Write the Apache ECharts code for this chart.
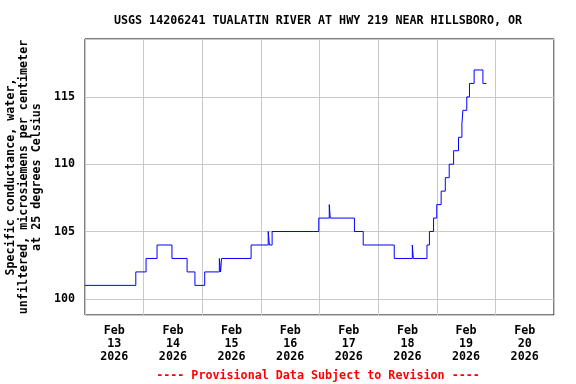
<!DOCTYPE html>
<html>
<head>
<meta charset="utf-8">
<script src="https://cdn.jsdelivr.net/npm/echarts@6/dist/echarts.min.js"></script>
<style>html,body{margin:0;padding:0;background:#fff}#c{width:576px;height:384px}</style>
</head>
<body>
<div id="c"></div>
<script>
// Hours after Feb 13 2026 00:00 where the reading changes, and the new value
var changeHours = [0, 20.8, 25.0, 29.5, 35.6, 41.8, 45.0, 49.0, 55.0, 55.5, 55.9, 68.0,
  75.0, 75.5, 76.6, 95.7, 100.0, 100.4, 110.3, 113.9, 126.6, 134.0, 134.4,
  140.0, 141.0, 142.7, 144.0, 145.8, 147.5, 149.1, 150.9, 152.9, 154.3, 154.7,
  156.3, 157.4, 159.3, 162.9, 164.3];
var changeValues = [101, 102, 103, 104, 103, 102, 101, 102, 103, 102, 103, 104,
  105, 104, 105, 106, 107, 106, 105, 104, 103, 104, 103,
  104, 105, 106, 107, 108, 109, 110, 111, 112, 113, 114,
  115, 116, 117, 116, 116];
var dayLabels = ['Feb\n13\n2026', 'Feb\n14\n2026', 'Feb\n15\n2026', 'Feb\n16\n2026',
  'Feb\n17\n2026', 'Feb\n18\n2026', 'Feb\n19\n2026', 'Feb\n20\n2026'];
var yTicks = [100, 105, 110, 115];

var seriesData = changeHours.map(function (h, i) { return [h, changeValues[i]]; });
var FONT = '"DejaVu Sans Mono", "Liberation Mono", monospace';

var chart = echarts.init(document.getElementById('c'), null, {renderer: 'canvas'});
chart.setOption({
  animation: false,
  backgroundColor: '#fff',
  title: [{
    text: 'USGS 14206241 TUALATIN RIVER AT HWY 219 NEAR HILLSBORO, OR',
    left: 313, top: 10, textAlign: 'center',
    textStyle: {fontFamily: FONT, fontSize: 11.7, fontWeight: 'bold', color: '#000'}
  }, {
    text: '---- Provisional Data Subject to Revision ----',
    left: 313, top: 365, textAlign: 'center',
    textStyle: {fontFamily: FONT, fontSize: 11.7, fontWeight: 'bold', color: '#ff0000'}
  }],
  grid: {left: 85, right: 22, top: 39, bottom: 69, containLabel: false, outerBoundsMode: 'none',
    show: true, borderColor: '#000', borderWidth: 1, backgroundColor: 'transparent'},
  xAxis: [{
    type: 'value', min: 0, max: 192, interval: 24,
    axisLine: {show: false},
    axisTick: {show: false}, axisLabel: {show: false},
    splitLine: {show: true, lineStyle: {color: '#c8c8c8', width: 1}}
  }, {
    type: 'category', data: dayLabels, position: 'bottom', boundaryGap: true,
    axisLine: {show: false}, axisTick: {show: false}, splitLine: {show: false},
    axisLabel: {show: true, interval: 0, margin: 9, fontFamily: FONT, fontSize: 11.7, fontWeight: 'bold', color: '#000', lineHeight: 13}
  }],
  yAxis: {
    type: 'value', min: 98.8, max: 119.3,
    name: 'Specific conductance, water,\nunfiltered, microsiemens per centimeter\nat 25 degrees Celsius',
    nameLocation: 'middle', nameGap: 32, nameRotate: 90,
    nameTextStyle: {fontFamily: FONT, fontSize: 11.7, fontWeight: 'bold', color: '#000', lineHeight: 13, align: 'center'},
    axisLine: {show: false},
    axisTick: {show: false},
    axisLabel: {
      showMinLabel: false, showMaxLabel: false, margin: 10,
      fontFamily: FONT, fontSize: 11.7, fontWeight: 'bold', color: '#000',
      formatter: function (v) { return yTicks.indexOf(Math.round(v * 10) / 10) >= 0 ? String(v) : ''; }
    },
    splitLine: {show: true, lineStyle: {color: '#c8c8c8', width: 1}}
  },
  series: [{
    type: 'line', xAxisIndex: 0, data: seriesData, step: 'end',
    showSymbol: false, lineStyle: {color: '#0000ff', width: 1}, itemStyle: {color: '#0000ff'}
  }]
});
</script>
</body>
</html>
